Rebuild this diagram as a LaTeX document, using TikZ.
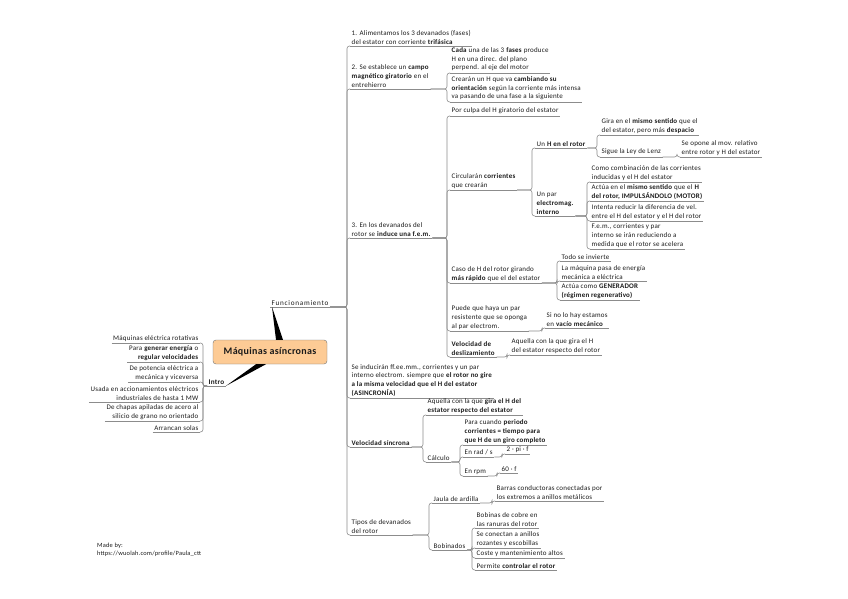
\documentclass[tikz,border=0pt]{standalone}
\usepackage{fontspec}
\setmainfont{Carlito}[LetterSpace=3]
\usetikzlibrary{calc}
\definecolor{LineGray}{HTML}{8C8C8C}
\definecolor{RootFill}{HTML}{FDCB95}
\definecolor{TextDark}{HTML}{1A1A1A}
\tikzset{
  uline/.style={draw=LineGray, line width=0.6pt},
  conn/.style={draw=LineGray, line width=0.6pt, rounded corners=2.5pt},
  topic/.style={anchor=south west, align=left, inner xsep=1.5pt, inner ysep=1.6pt,
    text=TextDark, font=\fontsize{7}{8.6}\selectfont,
    append after command={(\tikzlastnode.south west) edge[uline] (\tikzlastnode.south east)}},
  topicL/.style={topic, anchor=south east, align=right},
  rootbox/.style={draw=black!55, fill=RootFill, rounded corners=3pt, minimum width=114pt,
    minimum height=24pt, font=\fontsize{10}{12}\selectfont\bfseries, text=TextDark},
  credit/.style={anchor=south west, align=left, inner sep=0pt, font=\fontsize{6.4}{8}\selectfont, text=TextDark}
}
% connectors: right-hand and left-hand branches
\newcommand\lnk[2]{\draw[conn] (#1.south east) -- ($(#1.south east -| #2.south west)+(-3,0)$) |- (#2.south west);}
\newcommand\lnkL[2]{\draw[conn] (#1.south west) -- ($(#1.south west -| #2.south east)+(3,0)$) |- (#2.south east);}
\begin{document}
\begin{tikzpicture}[x=1pt,y=-1pt]
  \useasboundingbox (0,0) rectangle (848,599);
  \node[rootbox] (root) at (270,352) {Máquinas asíncronas};
  \node[topic, font=\fontsize{7.2}{8.6}\selectfont\addfontfeature{LetterSpace=10}] (fun) at (270,307) {Funcionamiento};
  \node[topic, font=\fontsize{7.2}{8.6}\selectfont\bfseries] (intro) at (207,386) {Intro};
  \fill[black] ($(root.north)+(6,0)$) -- ($(fun.south west)+(2,0)$) -- ($(root.north)+(13,0)$) -- cycle;
  \fill[black] ($(root.south)+(-14,0)$) -- (intro.south east) -- ($(root.south)+(-4,0)$) -- cycle;

  % Intro
  \node[topicL] (i1) at (200,343) {Máquinas eléctrica rotativas};
  \node[topicL] (i2) at (200,362) {Para \textbf{generar energía} o\\\textbf{regular velocidades}};
  \node[topicL] (i3) at (200,382) {De potencia eléctrica a\\mecánica y viceversa};
  \node[topicL] (i4) at (200,402) {Usada en accionamientos eléctricos\\industriales de hasta 1 MW};
  \node[topicL] (i5) at (200,421) {De chapas apiladas de acero al\\silicio de grano no orientado};
  \node[topicL] (i6) at (200,432) {Arrancan solas};
  \foreach \k in {i1,i2,i3,i4,i5,i6} {\lnkL{intro}{\k}}

  % Funcionamiento
  \node[topic] (f1) at (350,46) {1. Alimentamos los 3 devanados (fases)\\del estator con corriente \textbf{trifásica}};
  \node[topic] (f2) at (350,89) {2. Se establece un \textbf{campo}\\\textbf{magnético giratorio} en el\\entrehierro};
  \node[topic] (f3) at (350,238) {3. En los devanados del\\rotor se \textbf{induce una f.e.m.}};
  \node[topic] (f4) at (350,398) {Se inducirán ff.ee.mm., corrientes y un par\\interno electrom. siempre que \textbf{el rotor no gire}\\\textbf{a la misma velocidad que el H del estator}\\\textbf{(ASINCRONÍA)}};
  \node[topic] (f5) at (350,447) {\textbf{Velocidad síncrona}};
  \node[topic] (f6) at (350,535) {Tipos de devanados\\del rotor};
  \foreach \k in {f1,f2,f3,f4,f5,f6} {\lnk{fun}{\k}}

  % 2.
  \node[topic] (f2a) at (450,73) {\textbf{Cada} una de las 3 \textbf{fases} produce\\H en una direc. del plano\\perpend. al eje del motor};
  \node[topic] (f2b) at (450,102) {Crearán un H que va \textbf{cambiando su}\\\textbf{orientación} según la corriente más intensa\\va pasando de una fase a la siguiente};
  \lnk{f2}{f2a} \lnk{f2}{f2b}

  % 3.
  \node[topic] (f3a) at (450,116) {Por culpa del H giratorio del estator};
  \node[topic] (f3b) at (450,190) {Circularán \textbf{corrientes}\\que crearán};
  \node[topic] (f3c) at (450,283) {Caso de H del rotor girando\\\textbf{más rápido} que el del estator};
  \node[topic] (f3d) at (450,331) {Puede que haya un par\\resistente que se oponga\\al par electrom.};
  \node[topic] (f3e) at (450,357) {\textbf{Velocidad de}\\\textbf{deslizamiento}};
  \foreach \k in {f3a,f3b,f3c,f3d,f3e} {\lnk{f3}{\k}}

  \node[topic] (rH) at (535,148) {Un \textbf{H en el rotor}};
  \node[topic] (rPar) at (535,216) {Un par\\\textbf{electromag.}\\\textbf{interno}};
  \lnk{f3b}{rH} \lnk{f3b}{rPar}

  \node[topic] (rH1) at (600,135) {Gira en el \textbf{mismo sentido} que el\\del estator, pero más \textbf{despacio}};
  \node[topic] (rH2) at (600,157) {Sigue la Ley de Lenz};
  \node[topic] (lenz) at (680,157) {Se opone al mov. relativo\\entre rotor y H del estator};
  \lnk{rH}{rH1} \lnk{rH}{rH2} \lnk{rH2}{lenz}

  \node[topic] (p1) at (590,182) {Como combinación de las corrientes\\inducidas y el H del estator};
  \node[topic] (p2) at (590,201) {Actúa en el \textbf{mismo sentido} que el \textbf{H}\\\textbf{del rotor, IMPULSÁNDOLO (MOTOR)}};
  \node[topic] (p3) at (590,221) {Intenta reducir la diferencia de vel.\\entre el H del estator y el H del rotor};
  \node[topic] (p4) at (590,249) {F.e.m., corrientes y par\\interno se irán reduciendo a\\medida que el rotor se acelera};
  \foreach \k in {p1,p2,p3,p4} {\lnk{rPar}{\k}}

  \node[topic] (g1) at (560,261) {Todo se invierte};
  \node[topic] (g2) at (560,281) {La máquina pasa de energía\\mecánica a eléctrica};
  \node[topic] (g3) at (560,300) {Actúa como \textbf{GENERADOR}\\\textbf{(régimen regenerativo)}};
  \foreach \k in {g1,g2,g3} {\lnk{f3c}{\k}}

  \node[topic] (vacio) at (545,328) {Si no lo hay estamos\\en \textbf{vacío mecánico}};
  \lnk{f3d}{vacio}
  \node[topic] (desl) at (510,355) {Aquella con la que gira el H\\del estator respecto del rotor};
  \lnk{f3e}{desl}

  % Velocidad sincrona
  \node[topic] (s1) at (426,415) {Aquella con la que \textbf{gira el H del}\\\textbf{estator respecto del estator}};
  \node[topic] (calc) at (426,462) {Cálculo};
  \lnk{f5}{s1} \lnk{f5}{calc}
  \node[topic] (c1) at (463,445) {Para cuando \textbf{periodo}\\\textbf{corrientes = tiempo para}\\\textbf{que H de un giro completo}};
  \node[topic] (c2) at (463,457) {En rad / s};
  \node[topic] (c3) at (463,476) {En rpm};
  \foreach \k in {c1,c2,c3} {\lnk{calc}{\k}}
  \node[topic] (c2a) at (505,454) {2 · pi · f};
  \node[topic] (c3a) at (500,473) {60 · f};
  \lnk{c2}{c2a} \lnk{c3}{c3a}

  % Tipos de devanados
  \node[topic] (jaula) at (432,503) {Jaula de ardilla};
  \node[topic] (bob) at (432,550) {Bobinados};
  \lnk{f6}{jaula} \lnk{f6}{bob}
  \node[topic] (barras) at (495,501) {Barras conductoras conectadas por\\los extremos a anillos metálicos};
  \lnk{jaula}{barras}
  \node[topic] (b1) at (475,528) {Bobinas de cobre en\\las ranuras del rotor};
  \node[topic] (b2) at (475,548) {Se conectan a anillos\\rozantes y escobillas};
  \node[topic] (b3) at (475,558) {Coste y mantenimiento altos};
  \node[topic] (b4) at (475,570) {Permite \textbf{controlar el rotor}};
  \foreach \k in {b1,b2,b3,b4} {\lnk{bob}{\k}}

  \node[credit] (made) at (97,557) {Made by:\\https://wuolah.com/profile/Paula\_ctt};
\end{tikzpicture}
\end{document}
